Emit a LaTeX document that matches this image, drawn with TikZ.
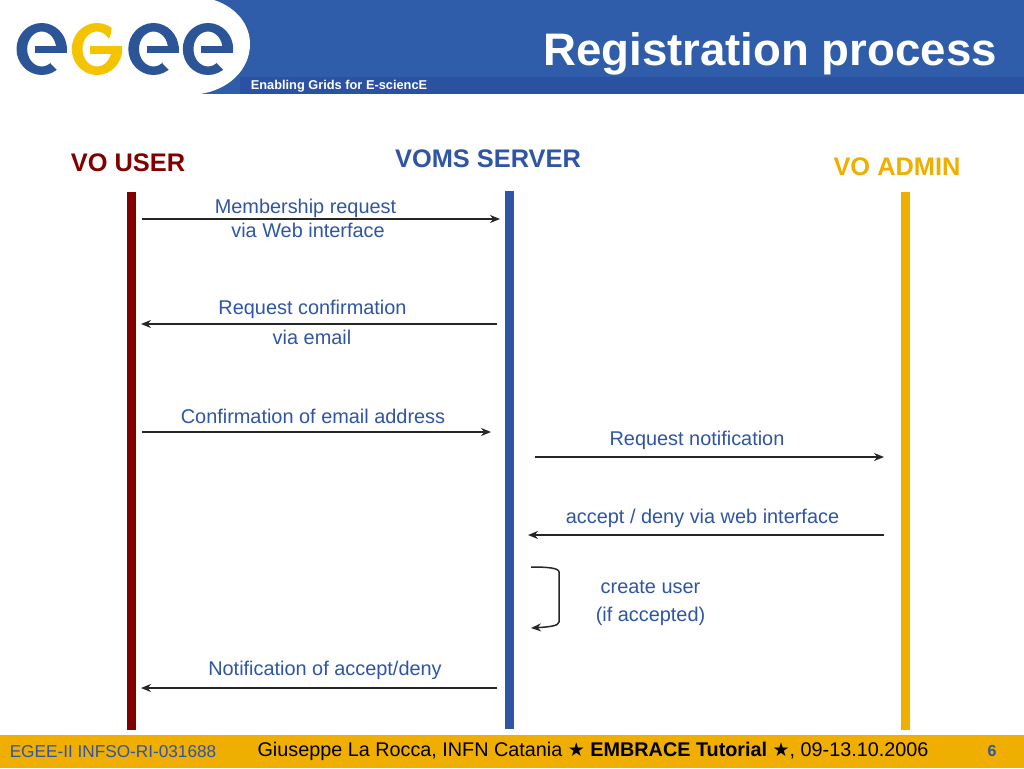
\documentclass[tikz,border=0pt]{standalone}
\usepackage{fontspec}
\setmainfont{Liberation Sans}
\newfontfamily\symfont{DejaVu Sans}
\usetikzlibrary{arrows.meta}
\definecolor{egblue}{HTML}{2F5DAA}
\definecolor{egstrip}{HTML}{2A52A0}
\definecolor{egtext}{HTML}{2F55A4}
\definecolor{egyellow}{HTML}{F0AE00}
\definecolor{egred}{HTML}{800000}
\definecolor{loge}{HTML}{2B5597}
\definecolor{logg}{HTML}{F5C400}
\tikzset{
  msg/.style={font=\fontsize{19.9}{23}\selectfont,text=egtext,inner sep=0pt,anchor=center},
  head/.style={font=\bfseries\fontsize{25.4}{30}\selectfont,inner sep=0pt,anchor=center},
  flow/.style={draw=black!85,line width=1.5pt,-{Stealth[length=10pt,width=8pt]}},
  foot/.style={inner sep=0pt,anchor=center}
}
\newcommand{\logoe}[2]{% centre x, colour
  \fill[#2,even odd rule] (#1,49) ellipse [x radius=25.2,y radius=26] (#1,49) ellipse [x radius=14.5,y radius=17.5];
  \fill[white] (#1+9,52.7) -- (#1+27,52.7) -- (#1+27,76) -- (#1+16.5,71) -- (#1+9,63.5) -- cycle;
  \fill[#2] (#1-6.7,45.7) rectangle (#1+25,52.7);
}
\begin{document}
\begin{tikzpicture}[x=1pt,y=-1pt]
\useasboundingbox (0,0) rectangle (1024,768);
\fill[white] (0,0) rectangle (1024,768);
% banner
\fill[egblue] (0,0) rectangle (1024,94);
\fill[egstrip] (240,77) rectangle (1024,94);
\fill[white] (0,0) -- (214,0) .. controls (238,8) and (250,26) .. (250,44)
  .. controls (250,70) and (228,90) .. (200,94) -- (0,94) -- cycle;
% logo
\logoe{41.7}{loge}
\logoe{153.5}{loge}
\logoe{208}{loge}
\fill[logg,even odd rule] (97,49) ellipse [x radius=25.2,y radius=26] (97,49) ellipse [x radius=14.5,y radius=17.5];
\fill[white] (106,46) -- (124,46) -- (124,22) -- (112,24) -- (111,34) -- cycle;
\fill[logg] (90,46) rectangle (122,54);
% titles
\node[inner sep=0pt,anchor=center,text=white,font=\bfseries\fontsize{12.8}{15}\selectfont] (tag) at (339,86) {Enabling Grids for E-sciencE};
\node[inner sep=0pt,anchor=center,text=white,font=\bfseries\fontsize{45.6}{54}\selectfont] (title) at (770,53.5) {Registration process};
% headings
\node[head,text=egred] (user) at (128,162.5) {VO USER};
\node[head,text=egtext] (server) at (488,158.5) {VOMS SERVER};
\node[head,text=egyellow] (admin) at (897,166.5) {VO ADMIN};
% lifelines
\fill[egred] (127,192) rectangle (136,730);
\fill[egtext] (505,191) rectangle (514,729);
\fill[egyellow] (901,192) rectangle (910,730);
% arrow end points
\coordinate (a1s) at (142,219); \coordinate (a1e) at (500,219);
\coordinate (a2s) at (497,324); \coordinate (a2e) at (141,324);
\coordinate (a3s) at (142,432); \coordinate (a3e) at (491,432);
\coordinate (a4s) at (535,457); \coordinate (a4e) at (884,457);
\coordinate (a5s) at (884,535); \coordinate (a5e) at (528,535);
\coordinate (a6s) at (531,567); \coordinate (a6e) at (531,628);
\coordinate (a7s) at (497,688); \coordinate (a7e) at (141,688);
\draw[flow] (a1s) -- (a1e);
\draw[flow] (a2s) -- (a2e);
\draw[flow] (a3s) -- (a3e);
\draw[flow] (a4s) -- (a4e);
\draw[flow] (a5s) -- (a5e);
\draw[flow] (a6s) .. controls (548,567) and (559,568) .. (559,572) -- (559,622) .. controls (559,626) and (548,627) .. (a6e);
\draw[flow] (a7s) -- (a7e);
% labels
\node[msg] (l1) at (305.5,208.5) {Membership request};
\node[msg] (l1b) at (308,230) {via Web interface};
\node[msg] (l2) at (312.5,309) {Request confirmation};
\node[msg] (l2b) at (312,337) {via email};
\node[msg] (l3) at (313,416) {Confirmation of email address};
\node[msg] (l4) at (697,440) {Request notification};
\node[msg] (l5) at (702.5,518) {accept / deny via web interface};
\node[msg] (l6) at (650.5,587.5) {create user};
\node[msg] (l6b) at (650.5,616) {(if accepted)};
\node[msg] (l7) at (325,670) {Notification of accept/deny};
% footer
\fill[egyellow] (0,735) rectangle (1024,768);
\node[foot,text=egtext,font=\fontsize{17.2}{20}\selectfont] (f1) at (113,751.5) {EGEE-II INFSO-RI-031688};
\node[foot,text=black,font=\fontsize{19.8}{23}\selectfont] (f2) at (593,751) {Giuseppe La Rocca, INFN Catania {\symfont\fontsize{19}{20}\selectfont ★} \textbf{EMBRACE Tutorial} {\symfont\fontsize{19}{20}\selectfont ★}, 09-13.10.2006};
\node[foot,text=egtext,font=\bfseries\fontsize{16}{20}\selectfont] (f3) at (992,751) {6};
\end{tikzpicture}
\end{document}
